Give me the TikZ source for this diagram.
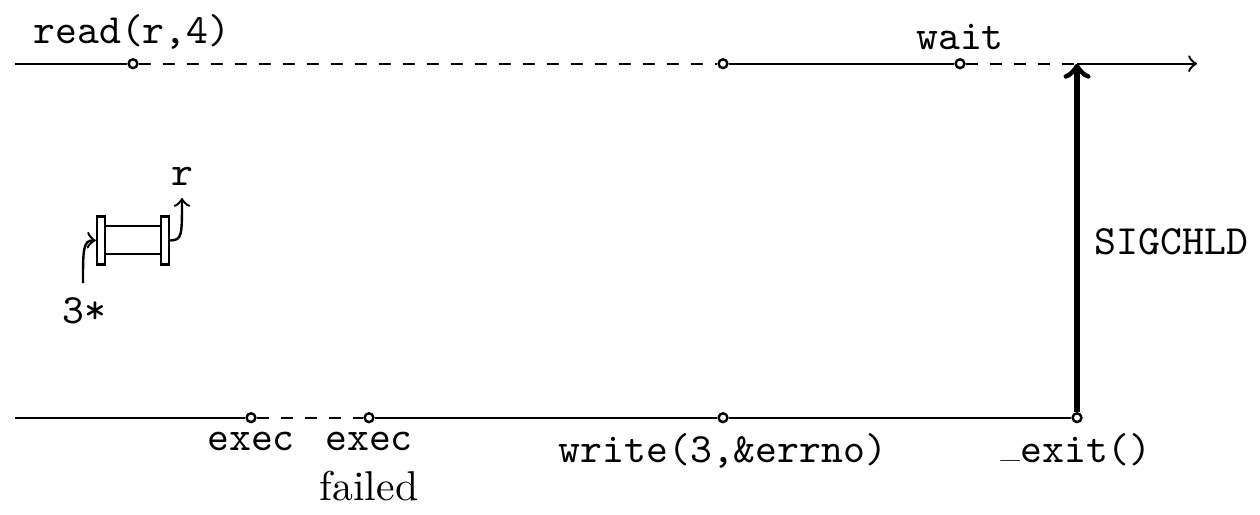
\documentclass[tikz,border=0pt]{standalone}
\tikzset{
  every picture/.style={x=0.25pt,y=-0.25pt},
  ev/.style={draw,circle,inner sep=0pt,minimum size=2.2pt,line width=0.6pt},
  ln/.style={line width=0.6pt},
  dl/.style={line width=0.6pt,dashed},
  ttl/.style={anchor=base,inner sep=0pt,font=\fontsize{10.42}{12}\selectfont\ttfamily},
  rml/.style={anchor=base,inner sep=0pt,font=\fontsize{10.42}{12}\selectfont\rmfamily},
  pipecap/.style={draw,rectangle,inner sep=0pt,minimum width=2pt,minimum height=12pt,line width=0.6pt},
}
\begin{document}
\begin{tikzpicture}
\useasboundingbox (0,0) rectangle (1260,514);
% top line
\coordinate (ts) at (15,63.7);
\node[ev] (t1) at (133,63.7) {};
\node[ev] (t2) at (723,63.7) {};
\node[ev] (t3) at (960,63.7) {};
\coordinate (sg) at (1077,63.7);
\coordinate (te) at (1197,63.7);
\draw[ln] (ts) -- (t1);
\draw[dl] (t1) -- (t2);
\draw[ln] (t2) -- (t3);
\draw[dl] (t3) -- (sg);
\draw[ln,->] (sg) -- (te);
% bottom line
\coordinate (bs) at (15,417.7);
\node[ev] (b1) at (251,417.7) {};
\node[ev] (b2) at (369,417.7) {};
\node[ev] (b3) at (723,417.7) {};
\node[ev] (b4) at (1077,417.7) {};
\draw[ln] (bs) -- (b1);
\draw[dl] (b1) -- (b2);
\draw[ln] (b2) -- (b3);
\draw[ln] (b3) -- (b4);
\draw[line width=1.4pt,->] (b4) -- (sg);
% pipe
\node[pipecap] (pl) at (101,240.5) {};
\node[pipecap] (pr) at (165,240.5) {};
\coordinate (plt) at (105,226);
\coordinate (prt) at (161,226);
\coordinate (plb) at (105,254);
\coordinate (prb) at (161,254);
\draw[ln] (plt) -- (prt);
\draw[ln] (plb) -- (prb);
% pipe labels and arrows
\node[ttl] (three) at (84.5,323) {3*};
\node[ttl] (rr) at (182,185) {r};
\coordinate (ia) at (83,283);
\coordinate (oa) at (182,198);
\draw[line width=0.6pt,->] (ia) .. controls (83,250) and (83,240) .. (pl.west);
\draw[line width=0.6pt,->] (pr.east) .. controls (182,240) and (182,236) .. (oa);
% labels
\node[ttl] (l1) at (132,43) {read(r,4)};
\node[ttl] (l2) at (960,50) {wait};
\node[ttl,anchor=base west] (l3) at (1094,254) {SIGCHLD};
\node[ttl] (l4) at (251,450) {exec};
\node[ttl] (l5) at (369,450) {exec};
\node[rml] (l6) at (369,500) {failed};
\node[ttl] (l7) at (723,462) {write(3,\&errno)};
\node[ttl] (l8) at (1076,462) {\raisebox{0.95pt}{\fontsize{5}{6}\selectfont\rmfamily\_}\kern0.1pt exit()};
\end{tikzpicture}
\end{document}
